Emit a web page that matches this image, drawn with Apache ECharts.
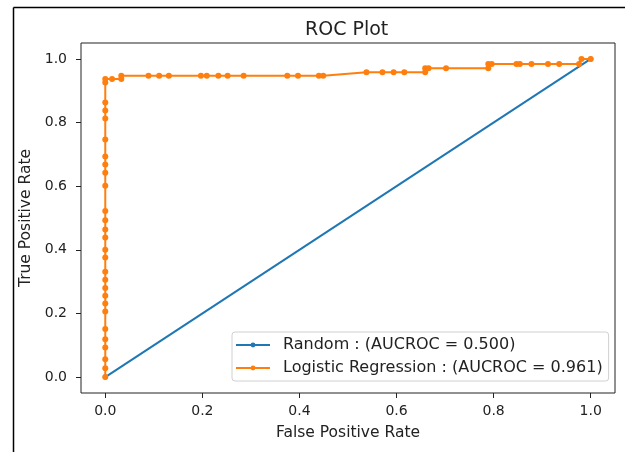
<!DOCTYPE html>
<html>
<head>
<meta charset="utf-8">
<script src="https://cdn.jsdelivr.net/npm/echarts@6/dist/echarts.min.js"></script>
<style>
  html, body { margin: 0; padding: 0; background: #fff; }
  #main { width: 625px; height: 452px; }
</style>
</head>
<body>
<div id="main"></div>
<script>
var chartDom = document.getElementById('main');
var myChart = echarts.init(chartDom);
var option;

// tick positions on both axes
var tickValues = [0, 0.2, 0.4, 0.6, 0.8, 1.0];

// random classifier
var randomFpr = [0, 1];
var randomTpr = [0, 1];

// logistic regression roc points
var logFpr = [0, 0, 0, 0, 0, 0, 0, 0, 0, 0, 0, 0, 0, 0, 0, 0, 0, 0, 0, 0, 0, 0, 0, 0, 0, 0, 0, 0,
    0.014, 0.033, 0.033, 0.089, 0.111, 0.131, 0.197, 0.209, 0.233, 0.252, 0.285, 0.375, 0.397, 0.440, 0.449,
    0.538, 0.571, 0.594, 0.616, 0.659, 0.659, 0.666, 0.702, 0.789, 0.789, 0.796, 0.847, 0.854, 0.878,
    0.912, 0.935, 0.976, 0.981, 1.0];
var logTpr = [0, 0.028, 0.056, 0.093, 0.119, 0.151, 0.206, 0.231, 0.256, 0.28, 0.306, 0.331, 0.376, 0.4,
    0.439, 0.464, 0.493, 0.522, 0.601, 0.642, 0.668, 0.693, 0.747, 0.813, 0.838, 0.863, 0.926, 0.937,
    0.937, 0.937, 0.947, 0.947, 0.947, 0.947, 0.947, 0.947, 0.947, 0.947, 0.947, 0.947, 0.947, 0.947, 0.947,
    0.958, 0.958, 0.958, 0.958, 0.958, 0.971, 0.971, 0.971, 0.971, 0.984, 0.984, 0.984, 0.984, 0.984,
    0.984, 0.984, 0.984, 1.0, 1.0];

var seriesNames = ['Random : (AUCROC = 0.500)', 'Logistic Regression : (AUCROC = 0.961)'];

function pairs(xs, ys) {
    var out = [];
    for (var i = 0; i < xs.length; i++) out.push([xs[i], ys[i]]);
    return out;
}

var fontName = 'DejaVu Sans';

function makeAxis(name, gap, isY) {
    return {
        type: 'value',
        min: -0.05,
        max: 1.05,
        name: name,
        nameLocation: 'middle',
        nameGap: gap,
        nameTextStyle: { fontFamily: fontName, fontSize: 15.5, color: '#222' },
        axisLine: { show: false, onZero: false },
        axisTick: {
            show: true, inside: false, length: 5,
            customValues: tickValues,
            lineStyle: { color: '#222', width: 1 }
        },
        axisLabel: {
            customValues: tickValues,
            margin: isY ? 14 : 11,
            fontFamily: fontName, fontSize: 14, color: '#222',
            formatter: function (v) { return v.toFixed(1); }
        },
        splitLine: { show: false }
    };
}

option = {
    animation: false,
    backgroundColor: '#fff',
    title: {
        text: 'ROC Plot',
        left: 300,
        top: 16,
        textStyle: { fontFamily: fontName, fontSize: 19, fontWeight: 'normal', color: '#222' }
    },
    grid: {
        left: 81, right: 10, top: 43, bottom: 59,
        show: true, borderColor: '#222', borderWidth: 1, backgroundColor: '#fff'
    },
    legend: {
        orient: 'vertical',
        left: 232, top: 332,
        data: seriesNames,
        itemWidth: 34, itemHeight: 6, itemGap: 7,
        padding: [5, 6, 5, 3],
        borderColor: '#d0d0d0', borderWidth: 1, borderRadius: 3,
        backgroundColor: 'rgba(255,255,255,0.8)',
        textStyle: { fontFamily: fontName, fontSize: 16, color: '#222', padding: [0, 0, 0, 8] }
    },
    xAxis: makeAxis('False Positive Rate', 32, false),
    yAxis: makeAxis('True Positive Rate', 47, true),
    graphic: [
        { type: 'line', shape: { x1: 13.5, y1: 7.5, x2: 13.5, y2: 452 }, style: { stroke: '#000', lineWidth: 1.5 } },
        { type: 'line', shape: { x1: 13.5, y1: 7.5, x2: 625, y2: 7.5 }, style: { stroke: '#000', lineWidth: 1.5 } }
    ],
    series: [
        {
            name: seriesNames[0],
            type: 'line',
            data: pairs(randomFpr, randomTpr),
            color: '#1f77b4',
            symbol: 'circle', symbolSize: 5, showSymbol: true,
            lineStyle: { width: 2 }
        },
        {
            name: seriesNames[1],
            type: 'line',
            data: pairs(logFpr, logTpr),
            color: '#ff7f0e',
            symbol: 'circle', symbolSize: 6, showSymbol: true,
            showAllSymbol: true,
            lineStyle: { width: 2 }
        }
    ]
};

option && myChart.setOption(option);
</script>
</body>
</html>
